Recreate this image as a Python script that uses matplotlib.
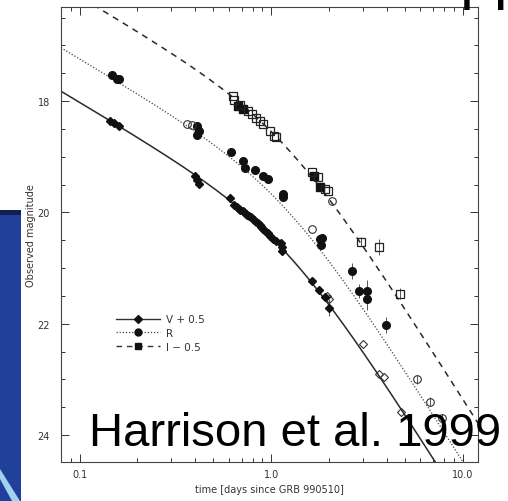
import matplotlib
matplotlib.use("Agg")
import matplotlib.pyplot as plt
from matplotlib.lines import Line2D
from matplotlib.patches import Rectangle, Polygon
import numpy as np

# broken power-law fit: decay indices, break time (days), smoothness
alpha1, alpha2 = 0.82, 2.18
t_break = 1.2
smooth = 1.5
# zero points of the fitted curves
m0_V, m0_R, m0_I = 20.23, 19.45, 18.33

# V + 0.5 (filled diamonds)
v_t = [0.145, 0.152, 0.160, 0.40, 0.41, 0.42, 0.61,
       0.64, 0.66, 0.68, 0.69, 0.71, 0.72, 0.74, 0.75, 0.77, 0.78, 0.80,
       0.81, 0.83, 0.85, 0.87, 0.89, 0.91, 0.93, 0.96, 0.99, 1.02, 1.06,
       1.13, 1.14, 1.14, 1.63, 1.77, 1.90, 2.0]
v_m = [18.36, 18.39, 18.45, 19.35, 19.42, 19.48, 19.74,
       19.87, 19.90, 19.93, 19.96, 19.97, 20.00, 20.02, 20.04, 20.07, 20.08, 20.12,
       20.14, 20.17, 20.19, 20.23, 20.27, 20.30, 20.33, 20.37, 20.42, 20.47, 20.52,
       20.55, 20.62, 20.70, 21.23, 21.39, 21.52, 21.71]
v_err = [0] * 32 + [0.04, 0.05, 0.06, 0.15]
# V open diamonds
vo_t = [0.88, 0.97, 1.95, 2.0, 3.0, 3.64, 3.86, 4.74]
vo_m = [20.24, 20.40, 21.50, 21.56, 22.36, 22.91, 22.95, 23.58]

# R (filled circles)
r_t = [0.147, 0.156, 0.160, 0.41, 0.42, 0.41, 0.62, 0.71, 0.73, 0.82, 0.91,
       0.96, 1.15, 1.15, 1.79, 1.85, 1.81, 2.63, 2.86, 3.16, 3.16, 3.96]
r_m = [17.53, 17.61, 17.61, 18.45, 18.54, 18.61, 18.91, 19.08, 19.20, 19.24, 19.35,
       19.40, 19.67, 19.72, 20.48, 20.46, 20.58, 21.05, 21.41, 21.41, 21.55, 22.02]
r_err = [0] * 14 + [0.06, 0.06, 0.06, 0.15, 0.12, 0.2, 0.2, 0.15]
# R open circles
ro_t = [0.362, 0.385, 1.63, 5.75, 6.73, 7.77]
ro_m = [18.41, 18.43, 20.30, 23.00, 23.40, 23.70]
ro_err = [0, 0, 0, 0.08, 0.08, 0.08]

# I - 0.5 (open squares)
i_t = [0.629, 0.64, 0.685, 0.754, 0.791, 0.830, 0.871, 0.903, 0.982, 1.04,
       1.055, 1.63, 1.75, 1.90, 1.97, 2.93, 3.64, 4.69]
i_m = [17.91, 17.98, 18.07, 18.18, 18.23, 18.30, 18.36, 18.41, 18.54, 18.63,
       18.65, 19.27, 19.37, 19.58, 19.61, 20.53, 20.62, 21.46]
i_err = [0] * 15 + [0.08, 0.15, 0.1]
# I filled squares
if_t = [0.668, 0.709, 1.67, 1.80]
if_m = [18.09, 18.14, 19.35, 19.54]
# I open circle
ic_t = [2.07]
ic_m = [19.79]


def decay(t, m0):
    x = t / t_break
    return m0 + 2.5 / smooth * np.log10(x ** (alpha1 * smooth) + x ** (alpha2 * smooth))


ink = "#111111"
fig = plt.figure(figsize=(5.08, 5.02), dpi=100)
fig.patch.set_facecolor("white")

# slide background strip on the left
fig.patches.append(Rectangle((0, 0), 21 / 508, 291 / 502, transform=fig.transFigure,
                             facecolor="#21409a", edgecolor="none", zorder=0))
fig.patches.append(Rectangle((0, 286 / 502), 21 / 508, 5 / 502, transform=fig.transFigure,
                             facecolor="#0e1f55", edgecolor="none", zorder=0))
fig.patches.append(Polygon([(0, 32 / 502), (0, 22 / 502), (12 / 508, 0), (20 / 508, 0)],
                           closed=True, transform=fig.transFigure,
                           facecolor="#9fd2ee", edgecolor="none", zorder=0))

ax = fig.add_axes([0.120, 0.078, 0.821, 0.906])
ax.set_xscale("log")
ax.set_xlim(0.08, 12.0)
ax.set_ylim(24.48, 16.31)

tt = np.logspace(np.log10(0.08), np.log10(12.0), 400)
ax.plot(tt, decay(tt, m0_V), color="#2a2a2a", lw=1.1, ls="-")
ax.plot(tt, decay(tt, m0_R), color="#444444", lw=0.9, ls=(0, (1, 1.5)))
ax.plot(tt, decay(tt, m0_I), color="#2a2a2a", lw=1.1, ls=(0, (4, 3.5)))

ax.errorbar(v_t, v_m, yerr=v_err, fmt="D", ms=4.5, color=ink, ecolor="#555555",
            elinewidth=0.7, capsize=0)
ax.plot(vo_t, vo_m, "D", ms=4.5, mfc="none", mec="#333333", mew=0.8)
ax.errorbar(r_t, r_m, yerr=r_err, fmt="o", ms=5.5, color=ink, ecolor="#555555",
            elinewidth=0.7, capsize=0)
ax.errorbar(ro_t, ro_m, yerr=ro_err, fmt="o", ms=5.5, mfc="none", mec="#333333",
            mew=0.8, ecolor="#555555", elinewidth=0.7, capsize=0)
ax.errorbar(i_t, i_m, yerr=i_err, fmt="s", ms=5.5, mfc="none", mec="#222222",
            mew=0.9, ecolor="#555555", elinewidth=0.7, capsize=0)
ax.plot(if_t, if_m, "s", ms=5.5, color=ink)
ax.plot(ic_t, ic_m, "o", ms=5.5, mfc="none", mec="#333333", mew=0.8)

ax.set_yticks([18, 20, 22, 24])
ax.set_yticks(np.arange(16.5, 24.5, 0.5), minor=True)
ax.set_xticks([0.1, 1.0, 10.0])
ax.set_xticklabels(["0.1", "1.0", "10.0"])
ax.tick_params(which="both", direction="in", top=True, right=True,
               labelsize=7, labelcolor="#333333", color="#333333", width=0.7)
ax.tick_params(which="major", length=6)
ax.tick_params(which="minor", length=3)
ax.tick_params(axis="y", which="major", pad=8)
ax.tick_params(axis="x", which="major", pad=5)
for s in ax.spines.values():
    s.set_color("#444444")
    s.set_linewidth(0.8)

ax.set_ylabel("Observed magnitude", fontsize=7, color="#333333", labelpad=1)
ax.set_xlabel("time [days since GRB 990510]", fontsize=7, color="#333333", labelpad=4)

handles = [
    Line2D([], [], color="#333333", lw=1.0, ls="-", marker="D", ms=4, mfc=ink, mec=ink),
    Line2D([], [], color="#444444", lw=0.9, ls=(0, (1, 1.5)), marker="o", ms=5, mfc=ink, mec=ink),
    Line2D([], [], color="#333333", lw=1.0, ls=(0, (4, 3.5)), marker="s", ms=5, mfc=ink, mec=ink),
]
ax.legend(handles, ["V + 0.5", "R", "I \u2212 0.5"], loc="upper left",
          bbox_to_anchor=(0.11, 0.345), frameon=False, fontsize=7.5,
          handlelength=4.2, labelspacing=0.35, handletextpad=0.6,
          labelcolor="#333333")

fig.text(89 / 508, 1 - 446 / 502, "Harrison et al. 1999", fontsize=34,
         family="Liberation Sans", color="black", va="baseline", ha="left")
fig.text(460 / 508, 1 + 3 / 502, "pp", fontsize=45, family="Liberation Sans",
         color="black", va="baseline", ha="left")

fig.savefig("out.png", dpi=100)
